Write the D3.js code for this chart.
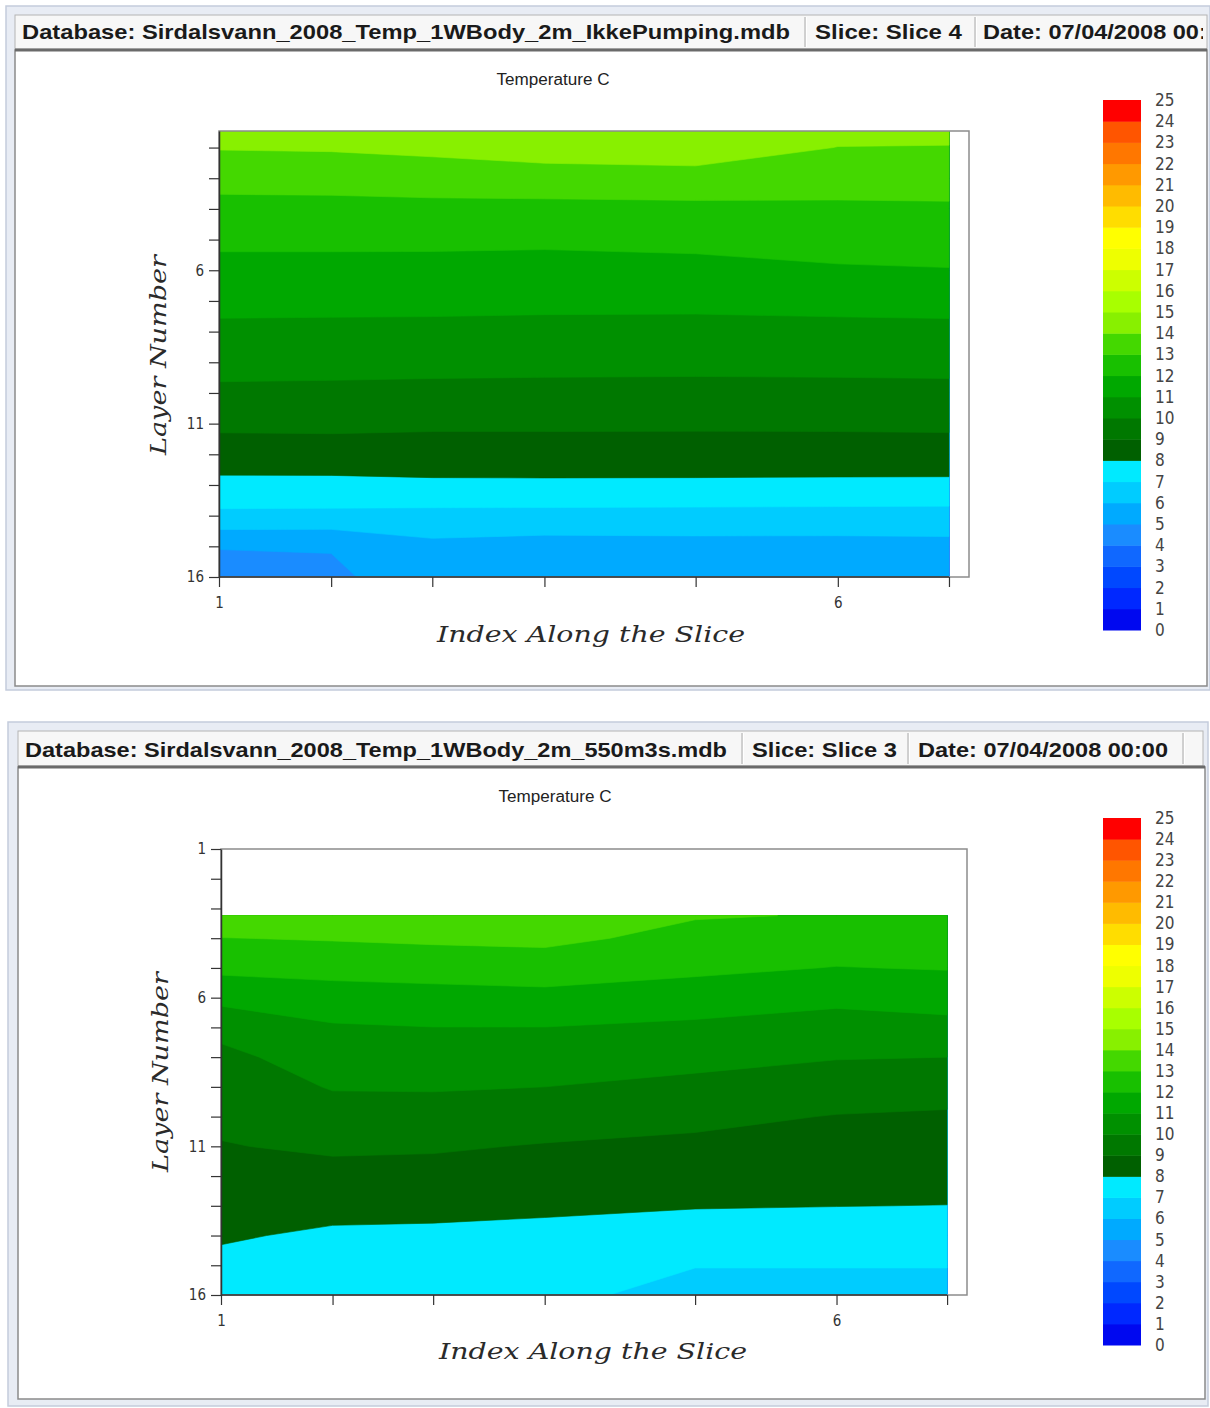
<!DOCTYPE html>
<html><head><meta charset="utf-8">
<script src="https://cdn.jsdelivr.net/npm/d3@7"></script>
<style>body{margin:0;background:#fff;} svg{display:block;}</style>
</head><body>
<svg id="c" width="1210" height="1408"></svg>
<script>
// ---------- data ----------
const levels = d3.range(0, 26); // colour scale levels, degrees C
const bandColors = ["#0008f0","#0028ff","#0048ff","#1068ff","#1a8cff","#00aaff","#00ccff","#00eaff",
  "#006000","#007800","#009000","#00a800","#18c000","#44d800","#88f000","#a8ff00","#ccff00",
  "#eeff00","#ffff00","#ffdd00","#ffbb00","#ff9900","#ff7700","#ff5500","#ff0000"];
const sliceIndex = [1, 2, 3, 4, 5, 6, 7];
const sliceDistance = [0, 1.12, 2.13, 3.25, 4.76, 6.18, 7.29];

// layer position of each data row (first row = water surface)
const layersIkkePumping = [1.46, 2, 3, 4, 5, 6, 7, 8, 9, 10, 11, 12, 13, 14, 15, 16];
const layers550m3s = [3.24, 4, 5, 6, 7, 8, 9, 10, 11, 12, 13, 14, 15, 16];

// temperature (C): rows = layers, columns = index along slice 1..7
const tempIkkePumping = [
  [14.46, 14.50, 14.67, 14.90, 14.90, 14.30, 14.30],
  [14.06, 14.10, 14.24, 14.49, 14.59, 13.98, 13.95],
  [13.32, 13.35, 13.44, 13.53, 13.60, 13.39, 13.39],
  [12.71, 12.72, 12.75, 12.74, 12.77, 12.84, 12.87],
  [12.19, 12.19, 12.19, 12.16, 12.24, 12.38, 12.42],
  [11.71, 11.71, 11.70, 11.67, 11.72, 11.90, 11.96],
  [11.26, 11.25, 11.24, 11.21, 11.21, 11.28, 11.31],
  [10.80, 10.78, 10.77, 10.74, 10.72, 10.74, 10.77],
  [10.33, 10.30, 10.28, 10.26, 10.24, 10.26, 10.28],
  [9.81, 9.79, 9.75, 9.73, 9.72, 9.73, 9.75],
  [9.20, 9.22, 9.16, 9.16, 9.15, 9.16, 9.19],
  [8.53, 8.55, 8.54, 8.54, 8.54, 8.54, 8.54],
  [7.75, 7.75, 7.83, 7.84, 7.83, 7.81, 7.80],
  [6.78, 6.76, 6.71, 6.70, 6.68, 6.66, 6.64],
  [5.06, 5.06, 5.75, 5.60, 5.65, 5.65, 5.70],
  [4.50, 4.80, 5.60, 5.55, 5.55, 5.55, 5.60]
];
const temp550m3s = [
  [13.70, 13.64, 13.75, 13.80, 13.07, 12.95, 12.85],
  [12.98, 13.07, 13.17, 13.24, 12.69, 12.53, 12.50],
  [12.23, 12.32, 12.39, 12.48, 12.20, 11.97, 12.05],
  [11.28, 11.57, 11.66, 11.73, 11.52, 11.22, 11.40],
  [10.30, 10.90, 10.99, 10.99, 10.81, 10.61, 10.71],
  [9.75, 10.48, 10.53, 10.50, 10.28, 10.05, 10.00],
  [9.45, 10.06, 10.08, 10.00, 9.76, 9.49, 9.38],
  [9.20, 9.61, 9.60, 9.46, 9.23, 8.96, 8.88],
  [8.95, 9.15, 9.11, 8.94, 8.80, 8.65, 8.58],
  [8.66, 8.70, 8.66, 8.54, 8.42, 8.33, 8.29],
  [8.38, 8.25, 8.21, 8.13, 8.05, 8.01, 7.99],
  [8.09, 7.87, 7.85, 7.80, 7.58, 7.62, 7.62],
  [7.80, 7.58, 7.55, 7.45, 7.02, 7.02, 7.02],
  [7.50, 7.30, 7.30, 7.15, 6.80, 6.80, 6.80]
];

const headers1 = ["Database: Sirdalsvann_2008_Temp_1WBody_2m_IkkePumping.mdb", "Slice: Slice 4", "Date: 07/04/2008 00:00"];
const headers2 = ["Database: Sirdalsvann_2008_Temp_1WBody_2m_550m3s.mdb", "Slice: Slice 3", "Date: 07/04/2008 00:00"];

// ---------- layout ----------
const panels = [
  { temps: tempIkkePumping, layers: layersIkkePumping, headers: headers1, yTop: 1.46,
    outer: [6, 6, 1204, 684], head: [15, 15, 1192, 34], headSep: [805, 975], headX: [22, 815, 983], headW: [768, 147, 250], headBase: 39,
    plot: [15, 50, 1192, 636], frame: [219, 131, 969, 577], title: [553, 85], cb: [1103, 1141, 630, 100],
    ylab: [158, 355], xlab: [591, 642] },
  { temps: temp550m3s, layers: layers550m3s, headers: headers2, yTop: 1,
    outer: [8, 722, 1200, 684], head: [18, 731, 1185, 35], headSep: [742, 908, 1183], headX: [25, 752, 918], headW: [702, 145, 250], headBase: 757,
    plot: [18, 767, 1187, 632], frame: [221, 849, 967, 1295], title: [555, 802], cb: [1103, 1141, 1345, 818],
    ylab: [160, 1072], xlab: [593, 1359] }
];

const svg = d3.select("#c");
const defs = svg.append("defs");

panels.forEach((p, pi) => {
  const g = svg.append("g");
  // window chrome
  g.append("rect").attr("x", p.outer[0]).attr("y", p.outer[1]).attr("width", p.outer[2]).attr("height", p.outer[3])
    .attr("fill", "#e8ecf4").attr("stroke", "#c4ccdc").attr("stroke-width", 1.5);
  g.append("rect").attr("x", p.head[0]).attr("y", p.head[1]).attr("width", p.head[2]).attr("height", p.head[3])
    .attr("fill", "#f7f7f7").attr("stroke", "#b4b4b4");
  p.headSep.forEach(x => {
    g.append("line").attr("x1", x).attr("x2", x).attr("y1", p.head[1] + 2).attr("y2", p.head[1] + p.head[3] - 2)
      .attr("stroke", "#a8a8a8").attr("stroke-width", 1);
    g.append("line").attr("x1", x + 1.5).attr("x2", x + 1.5).attr("y1", p.head[1] + 2).attr("y2", p.head[1] + p.head[3] - 2)
      .attr("stroke", "#ffffff").attr("stroke-width", 1);
  });
  const hclip = "hclip" + pi;
  defs.append("clipPath").attr("id", hclip).append("rect")
    .attr("x", p.head[0]).attr("y", p.head[1]).attr("width", p.head[2] - 4).attr("height", p.head[3]);
  const hg = g.append("g").attr("clip-path", `url(#${hclip})`);
  p.headers.forEach((t, i) => {
    hg.append("text").attr("x", p.headX[i]).attr("y", p.headBase).text(t)
      .attr("font-family", "'Liberation Sans Narrow','Liberation Sans',Arial,sans-serif")
      .attr("font-weight", "bold").attr("font-size", 21).attr("fill", "#1a1a1a")
      .attr("textLength", p.headW[i]).attr("lengthAdjust", "spacingAndGlyphs");
  });
  // plot area
  g.append("rect").attr("x", p.plot[0]).attr("y", p.plot[1]).attr("width", p.plot[2]).attr("height", p.plot[3])
    .attr("fill", "#ffffff").attr("stroke", "#8a8a8a").attr("stroke-width", 1.5);
  g.append("line").attr("x1", p.plot[0]).attr("x2", p.plot[0] + p.plot[2]).attr("y1", p.plot[1]).attr("y2", p.plot[1])
    .attr("stroke", "#6a6a6a").attr("stroke-width", 3);

  // scales
  const [fx0, fy0, fx1, fy1] = p.frame;
  const xs = d3.scaleLinear().domain([0, 7.49]).range([fx0, fx1]);
  const ys = d3.scaleLinear().domain([p.yTop, 16]).range([fy0, fy1]);
  const color = d3.scaleOrdinal().domain(levels.slice(0, 25)).range(bandColors);

  // contours
  const n = sliceIndex.length, m = p.temps.length;
  const values = p.temps.flat();
  const contours = d3.contours().size([n, m]).thresholds(levels.slice(0, 25))(values);
  const colToDist = d3.scaleLinear().domain(d3.range(n)).range(sliceDistance).clamp(true);
  const rowToLayer = d3.scaleLinear().domain(d3.range(m)).range(p.layers).clamp(true);
  const proj = d3.geoTransform({
    point(x, y) { this.stream.point(xs(colToDist(x - 0.5)), ys(rowToLayer(y - 0.5))); }
  });
  const path = d3.geoPath(proj);
  const pclip = "pclip" + pi;
  defs.append("clipPath").attr("id", pclip).append("rect")
    .attr("x", fx0).attr("y", fy0).attr("width", fx1 - fx0).attr("height", fy1 - fy0);
  g.append("g").attr("clip-path", `url(#${pclip})`).selectAll("path").data(contours).join("path")
    .attr("d", path).attr("fill", d => color(d.value)).attr("stroke", d => color(d.value)).attr("stroke-width", 0.6);

  // frame
  g.append("rect").attr("x", fx0).attr("y", fy0).attr("width", fx1 - fx0).attr("height", fy1 - fy0)
    .attr("fill", "none").attr("stroke", "#8c8c8c").attr("stroke-width", 1.5);

  const tickFont = "'DejaVu Sans Condensed','Liberation Sans Narrow',sans-serif";
  // y axis
  const yTicks = d3.range(Math.ceil(p.yTop), 17);
  const yAx = g.append("g").attr("transform", `translate(${fx0},0)`)
    .call(d3.axisLeft(ys).tickValues(yTicks).tickSizeInner(10).tickSizeOuter(0).tickPadding(5)
      .tickFormat(d => (d % 5 === 1 ? d : "")));
  yAx.select(".domain").attr("stroke", "#333").attr("stroke-width", 1.5);
  yAx.selectAll(".tick line").attr("stroke", "#333").attr("stroke-width", 1.2);
  yAx.selectAll("text").attr("font-family", tickFont).attr("font-size", 15).attr("fill", "#333");
  // x axis
  const xAx = g.append("g").attr("transform", `translate(0,${fy1})`)
    .call(d3.axisBottom(xs).tickValues(sliceDistance).tickSizeInner(10).tickSizeOuter(0).tickPadding(10)
      .tickFormat((d, i) => (sliceIndex[i] % 5 === 1 ? sliceIndex[i] : "")));
  xAx.select(".domain").attr("stroke", "#333").attr("stroke-width", 1.5)
    .attr("d", `M${fx0},0H${xs(sliceDistance[n - 1])}`);
  xAx.selectAll(".tick line").attr("stroke", "#333").attr("stroke-width", 1.2);
  xAx.selectAll("text").attr("font-family", tickFont).attr("font-size", 15).attr("fill", "#333");

  // titles
  g.append("text").attr("x", p.title[0]).attr("y", p.title[1]).attr("text-anchor", "middle")
    .attr("font-family", "'Liberation Sans Narrow','Liberation Sans',sans-serif").attr("font-size", 16)
    .attr("fill", "#222").attr("textLength", 113).attr("lengthAdjust", "spacingAndGlyphs").text("Temperature C");
  g.append("text").attr("x", p.xlab[0]).attr("y", p.xlab[1]).attr("text-anchor", "middle")
    .attr("font-family", "'DejaVu Serif',serif").attr("font-style", "italic").attr("font-size", 23)
    .attr("fill", "#2a2a2a").attr("textLength", 308).attr("lengthAdjust", "spacingAndGlyphs").text("Index Along the Slice");
  g.append("text").attr("transform", `translate(${p.ylab[0]},${p.ylab[1]}) rotate(-90)`).attr("text-anchor", "middle")
    .attr("dy", "0.35em")
    .attr("font-family", "'DejaVu Serif',serif").attr("font-style", "italic").attr("font-size", 23)
    .attr("fill", "#2a2a2a").attr("textLength", 200).attr("lengthAdjust", "spacingAndGlyphs").text("Layer Number");

  // colour bar
  const [cbx0, cbx1, cby0, cby1] = p.cb;
  const cbs = d3.scaleLinear().domain([0, 25]).range([cby0, cby1]);
  g.append("g").selectAll("rect").data(levels.slice(0, 25)).join("rect")
    .attr("x", cbx0).attr("width", cbx1 - cbx0)
    .attr("y", d => cbs(d + 1)).attr("height", d => cbs(d) - cbs(d + 1) + 0.5)
    .attr("fill", d => color(d));
  g.append("g").selectAll("text").data(levels).join("text")
    .attr("x", cbx1 + 14).attr("y", d => cbs(d)).attr("dy", "0.35em")
    .attr("font-family", tickFont).attr("font-size", 17).attr("fill", "#444").text(d => d);
});
</script>
</body></html>
